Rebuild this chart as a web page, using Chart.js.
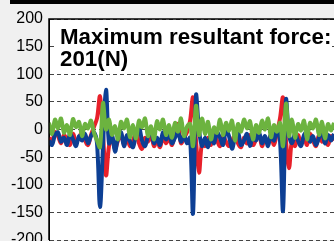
<!DOCTYPE html>
<html>
<head>
<meta charset="utf-8">
<script src="https://cdn.jsdelivr.net/npm/chart.js@4/dist/chart.umd.min.js"></script>
<style>
    html, body { margin: 0; padding: 0; background: #f0f0f0; }
    #wrap { width: 334px; height: 241px; }
</style>
</head>
<body>
<div id="wrap"><canvas id="chart" width="334" height="241"></canvas></div>
<script>
/* ─────────────────────────────────────────
   DATA — force components (N), one sample every 3 px
───────────────────────────────────────── */
const yTicks = [200, 150, 100, 50, 0, -50, -100, -150, -200];
const titleLines = ['Maximum resultant force:', '201(N)'];

const forceGreen = [
    12, -8, 18, 2, 20, -6, 8, -10, 19, 4,
    14, -12, 10, 2, 16, -6, -20, -32, 48, 0,
    18, -10, 6, -18, 14, 2, 18, -14, 8, -16,
    16, 4, 20, -12, 6, -18, 15, 0, 18, -10,
    8, -15, 12, -4, 20, -12, 5, 10, -30, 43,
    -10, 20, -8, 14, -18, 4, -6, 18, -10, 12,
    -2, 16, -20, 10, -4, 18, 2, 15, -18, 8,
    -6, 16, 0, 20, -14, 8, -4, 12, -30, 47,
    -12, 18, -15, 10, -2, 16, -18, 12, 2, 18,
    -10, 14, -16, 10, -2, 12
];

const forceBlue = [
    -20, -28, -10, -5, -22, -15, -28, -8, -18, -30,
    -12, -20, -8, -25, -12, -5, -25, -140, -30, 72,
    -25, -10, -40, -15, -5, -30, -10, -22, -32, -8,
    5, -20, -30, -12, -2, -25, -15, -28, -5, -18,
    -8, -25, -15, -5, -22, -10, -25, -15, -152, 62,
    0, -30, -15, -32, -10, -25, -5, -15, -28, 0,
    -12, -35, -15, -5, -28, -20, -8, -30, -10, -20,
    -5, -25, -12, -30, -8, -20, 0, -20, -147, 54,
    -10, -25, -8, -20, -30, -10, -5, -22, -12, -28,
    -15, -5, -25, -10, -20, -8
];

const forceRed = [
    -15, -22, -5, -12, -25, -10, -20, -28, -8, -22,
    -15, -5, -20, -28, -10, 5, 20, 60, -10, -83,
    -30, -15, -35, -20, -8, -28, -15, -30, -20, -5,
    -25, -35, -15, -22, -8, -30, -20, -32, -12, -25,
    -15, -28, -5, 10, -25, -15, -5, 15, 58, -20,
    -78, -25, -30, -15, -28, -10, -20, -30, -12, -22,
    -30, -20, -10, -25, -32, -15, -25, -10, -28, -18,
    -8, -30, -15, -25, -10, -28, -5, 20, 58, -20,
    -70, -20, -30, -10, -25, -15, -28, -8, -20, -30,
    -10, -22, -15, -28, -12, -20
];

/* ─────────────────────────────────────────
   HELPERS
───────────────────────────────────────── */
function toPoints(arr) {
    return arr.map((v, i) => ({x: i, y: v}));
}

const FONT = '"Liberation Sans", Arial, sans-serif';

const framePlugin = {
    id: 'frame',
    beforeDraw(chart) {
        const {ctx, chartArea: a} = chart;
        ctx.save();
        ctx.fillStyle = '#f0f0f0';
        ctx.fillRect(0, 0, chart.width, chart.height);
        ctx.fillStyle = '#000';
        ctx.fillRect(10, 0, chart.width - 10, 4);
        ctx.fillStyle = '#fff';
        ctx.fillRect(a.left, a.top, a.right - a.left, a.bottom - a.top);
        ctx.restore();
    },
    afterDatasetsDraw(chart) {
        const {ctx, chartArea: a} = chart;
        ctx.save();
        // text box
        ctx.fillStyle = '#fff';
        ctx.fillRect(57, 24, 275, 46);
        ctx.fillStyle = '#000';
        ctx.font = 'bold 22.3px ' + FONT;
        ctx.textBaseline = 'alphabetic';
        ctx.fillText(titleLines[0], 60, 44);
        ctx.fillText(titleLines[1], 60, 66);
        // axes lines
        ctx.strokeStyle = '#000';
        ctx.lineWidth = 1.5;
        ctx.setLineDash([]);
        ctx.beginPath();
        ctx.moveTo(a.left, a.bottom);
        ctx.lineTo(a.left, a.top);
        ctx.lineTo(a.right, a.top);
        ctx.stroke();
        ctx.restore();
    }
};

/* ─────────────────────────────────────────
   CHART
───────────────────────────────────────── */
new Chart(document.getElementById('chart'), {
    type: 'line',
    data: {
        datasets: [
            {data: toPoints(forceGreen), borderColor: '#6cb33f'},
            {data: toPoints(forceBlue), borderColor: '#0d3f94'},
            {data: toPoints(forceRed), borderColor: '#e8202a'}
        ].map(d => Object.assign(d, {
            borderWidth: 4,
            pointRadius: 0,
            tension: 0.35,
            fill: false
        }))
    },
    options: {
        responsive: false,
        animation: false,
        events: [],
        layout: {padding: {top: 19, bottom: 1, left: 0, right: 0}},
        plugins: {legend: {display: false}, tooltip: {enabled: false}},
        scales: {
            x: {
                type: 'linear',
                min: 0,
                max: forceGreen.length - 1,
                display: false
            },
            y: {
                min: yTicks[yTicks.length - 1],
                max: yTicks[0],
                afterBuildTicks(scale) {
                    scale.ticks = yTicks.map(v => ({value: v}));
                },
                afterFit(scale) {
                    scale.width = 49;
                    scale.paddingTop = 0;
                    scale.paddingBottom = 0;
                },
                ticks: {
                    color: '#000',
                    padding: 6,
                    font: {family: FONT, size: 16}
                },
                grid: {color: '#444', lineWidth: 1, drawTicks: false},
                border: {display: true, color: '#000', dash: [4, 3]}
            }
        }
    },
    plugins: [framePlugin]
});
</script>
</body>
</html>
